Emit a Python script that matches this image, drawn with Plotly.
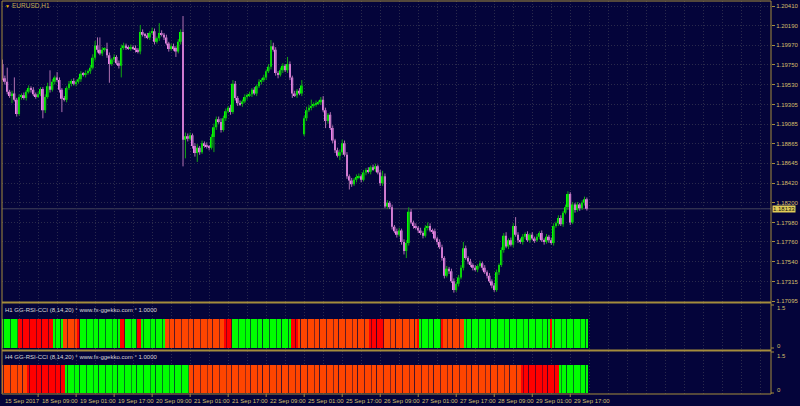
import plotly.graph_objects as go

# ---------------- data (EURUSD H1) ----------------
first_open = 1.1976
gap_bar = 127          # Monday open bar after the weekend gap
gap_open = 1.1897

close = [
    1.1960, 1.1956, 1.1945, 1.1940, 1.1943, 1.1936, 1.1920, 1.1939, 1.1941, 1.1938,
    1.1945, 1.1949, 1.1947, 1.1942, 1.1940, 1.1942, 1.1948, 1.1924, 1.1939, 1.1951,
    1.1947, 1.1956, 1.1961, 1.1958, 1.1947, 1.1937, 1.1936, 1.1949, 1.1954, 1.1957,
    1.1954, 1.1956, 1.1959, 1.1965, 1.1964, 1.1966, 1.1968, 1.1972, 1.1983, 1.1997,
    1.1992, 1.1988, 1.1992, 1.1993, 1.1986, 1.1976, 1.1981, 1.1984, 1.1977, 1.1974,
    1.1994, 1.1997, 1.1995, 1.1994, 1.1995, 1.1994, 1.1992, 1.1990, 1.2012, 1.2009,
    1.2008, 1.2006, 1.2011, 1.2013, 1.2001, 1.2005, 1.2011, 1.2009, 1.2006, 1.1999,
    1.1993, 1.1996, 1.1994, 1.1990, 1.2001, 1.2012, 1.1891, 1.1895, 1.1892, 1.1896,
    1.1884, 1.1876, 1.1882, 1.1877, 1.1887, 1.1885, 1.1883, 1.1882, 1.1894, 1.1905,
    1.1914, 1.1911, 1.1902, 1.1915, 1.1923, 1.1927, 1.1922, 1.1954, 1.1938, 1.1932,
    1.1931, 1.1934, 1.1939, 1.1941, 1.1942, 1.1947, 1.1943, 1.1951, 1.1956, 1.1958,
    1.1961, 1.1968, 1.1973, 1.1996, 1.1992, 1.1966, 1.1964, 1.1969, 1.1974, 1.1969,
    1.1976, 1.1961, 1.1943, 1.1941, 1.1946, 1.1943, 1.1952, 1.1915, 1.1924, 1.1927,
    1.1929, 1.1931, 1.1932, 1.1933, 1.1936, 1.1924, 1.1912, 1.1919, 1.1904, 1.1890,
    1.1879, 1.1873, 1.1877, 1.1887, 1.1874, 1.1850, 1.1845, 1.1841, 1.1846, 1.1849,
    1.1850, 1.1846, 1.1854, 1.1857, 1.1855, 1.1860, 1.1858, 1.1861, 1.1854, 1.1842,
    1.1850, 1.1816, 1.1820, 1.1815, 1.1793, 1.1788, 1.1784, 1.1789, 1.1776, 1.1766,
    1.1775, 1.1810, 1.1798, 1.1794, 1.1792, 1.1789, 1.1786, 1.1783, 1.1792, 1.1794,
    1.1789, 1.1788, 1.1780, 1.1776, 1.1770, 1.1758, 1.1738, 1.1746, 1.1743, 1.1732,
    1.1722, 1.1729, 1.1736, 1.1747, 1.1769, 1.1758, 1.1754, 1.1750, 1.1747, 1.1745,
    1.1749, 1.1752, 1.1747, 1.1742, 1.1738, 1.1732, 1.1727, 1.1722, 1.1742, 1.1750,
    1.1767, 1.1783, 1.1771, 1.1778, 1.1773, 1.1794, 1.1784, 1.1778, 1.1776, 1.1782,
    1.1785, 1.1778, 1.1784, 1.1780, 1.1778, 1.1782, 1.1786, 1.1778, 1.1776, 1.1782,
    1.1778, 1.1775, 1.1794, 1.1797, 1.1803, 1.1796, 1.1809, 1.1815, 1.1830, 1.1798,
    1.1818, 1.1812, 1.1818, 1.1814, 1.1820, 1.1824, 1.18133,
]

# upper / lower shadow lengths in pips
wick_up = [
    5, 3, 16, 2, 3, 18, 2, 3, 2, 3,
    2, 3, 2, 3, 2, 3, 2, 2, 3, 4,
    18, 3, 2, 6, 3, 2, 3, 2, 3, 2,
    3, 2, 2, 3, 2, 3, 2, 3, 4, 5,
    9, 14, 3, 2, 7, 3, 2, 3, 2, 3,
    4, 3, 2, 2, 3, 2, 3, 2, 8, 3,
    2, 3, 2, 4, 3, 2, 11, 3, 2, 3,
    2, 3, 3, 2, 3, 3, 18, 4, 3, 3,
    2, 3, 4, 2, 3, 2, 3, 2, 3, 4,
    3, 3, 4, 3, 3, 2, 3, 4, 3, 2,
    3, 2, 3, 2, 3, 2, 3, 2, 3, 2,
    3, 2, 3, 7, 4, 3, 2, 3, 3, 2,
    8, 3, 2, 3, 2, 3, 6, 3, 4, 3,
    7, 2, 3, 2, 3, 4, 3, 2, 3, 3,
    2, 3, 3, 4, 3, 3, 2, 3, 2, 3,
    3, 2, 3, 2, 3, 2, 3, 3, 2, 3,
    6, 3, 3, 2, 3, 2, 3, 3, 2, 3,
    3, 5, 3, 2, 3, 2, 3, 2, 3, 4,
    3, 2, 3, 2, 3, 3, 2, 3, 2, 3,
    3, 2, 3, 3, 7, 3, 2, 3, 2, 3,
    2, 3, 2, 3, 2, 3, 2, 3, 3, 2,
    3, 3, 4, 2, 3, 3, 10, 3, 2, 3,
    2, 3, 2, 3, 2, 3, 2, 3, 2, 3,
    2, 3, 3, 2, 3, 3, 2, 3, 3, 2,
    3, 2, 3, 2, 3, 3, 2,
]
wick_dn = [
    2, 3, 3, 2, 8, 2, 3, 2, 3, 2,
    3, 2, 3, 2, 3, 2, 2, 9, 3, 2,
    3, 2, 3, 2, 3, 15, 2, 3, 2, 3,
    2, 3, 2, 3, 2, 3, 2, 3, 2, 3,
    3, 2, 3, 2, 3, 21, 2, 3, 2, 3,
    13, 2, 3, 2, 3, 2, 3, 2, 3, 2,
    3, 2, 3, 2, 3, 2, 3, 2, 3, 2,
    3, 2, 3, 6, 2, 3, 30, 21, 3, 2,
    3, 4, 10, 3, 2, 3, 2, 3, 2, 17,
    3, 2, 3, 2, 3, 2, 3, 2, 3, 3,
    2, 3, 2, 3, 2, 3, 2, 3, 2, 3,
    2, 3, 2, 3, 2, 3, 4, 2, 3, 2,
    3, 3, 5, 2, 3, 2, 3, 2, 3, 2,
    3, 2, 3, 2, 3, 2, 8, 3, 2, 3,
    3, 2, 5, 3, 2, 3, 10, 3, 2, 3,
    2, 3, 2, 3, 2, 3, 2, 3, 2, 3,
    3, 2, 3, 2, 3, 2, 3, 2, 3, 4,
    8, 3, 2, 3, 2, 3, 2, 3, 2, 3,
    2, 3, 2, 3, 2, 3, 3, 2, 3, 2,
    3, 2, 3, 2, 3, 2, 3, 2, 3, 2,
    3, 2, 3, 2, 3, 2, 3, 2, 2, 3,
    2, 3, 2, 3, 2, 3, 2, 3, 2, 3,
    3, 2, 3, 2, 3, 2, 3, 2, 3, 2,
    3, 2, 3, 2, 3, 2, 3, 2, 3, 3,
    2, 3, 2, 3, 2, 3, 2,
]

# GG-RSI-CCI indicator state per H1 bar (G = up, R = down, O = weak)
h1_runs = [("G", 7), ("R", 15), ("G", 4), ("O", 6), ("R", 1), ("G", 17), ("R", 2),
           ("G", 5), ("R", 2), ("G", 10), ("O", 25), ("R", 3), ("G", 25), ("R", 3),
           ("O", 30), ("R", 6), ("O", 14), ("R", 1), ("G", 9), ("R", 1), ("O", 9),
           ("G", 36), ("R", 1), ("G", 15)]
h4_runs = [("O", 11), ("R", 16), ("G", 52), ("O", 140), ("R", 16), ("G", 12)]
indicator_value = 1.0

price_ticks = [1.20410, 1.20190, 1.19970, 1.19750, 1.19530, 1.19305, 1.19085, 1.18865,
               1.18645, 1.18420, 1.18200, 1.17980, 1.17760, 1.17540, 1.17315, 1.17095]
time_ticks = [0, 16, 32, 48, 64, 80, 96, 112, 128, 144, 160, 176, 192, 208, 224, 240]
time_labels = ["15 Sep 2017", "18 Sep 09:00", "19 Sep 01:00", "19 Sep 17:00", "20 Sep 09:00",
               "21 Sep 01:00", "21 Sep 17:00", "22 Sep 09:00", "25 Sep 01:00", "25 Sep 17:00",
               "26 Sep 09:00", "27 Sep 01:00", "27 Sep 17:00", "28 Sep 09:00", "29 Sep 01:00",
               "29 Sep 17:00"]
last_price = 1.18133

# ---------------- derived ----------------
N = len(close)
xpos = [k + 1 for k in range(N)]
opens = [first_open] + close[:-1]
opens[gap_bar] = gap_open
pip = 0.0001
high = [max(o, c) + u * pip for o, c, u in zip(opens, close, wick_up)]
low = [min(o, c) - d * pip for o, c, d in zip(opens, close, wick_dn)]
is_up = [c >= o for o, c in zip(opens, close)]
body_base = [min(o, c) for o, c in zip(opens, close)]
body_len = [max(abs(c - o), 0.00003) for o, c in zip(opens, close)]


def expand(runs):
    out = []
    for s, n in runs:
        out += [s] * n
    return out


state_color = {"G": "#00ff00", "R": "#ff0000", "O": "#ff4500"}
h1_colors = [state_color[s] for s in expand(h1_runs)]
h4_colors = [state_color[s] for s in expand(h4_runs)]

# ---------------- style ----------------
BG = "#04043a"
GRID = "#2a2a4c"
GOLD_TXT = "#d2bf6a"
FRAME = "#a48c3c"
FONT = "Liberation Sans"
UP_BODY, DN_BODY = "#00ff00", "#ee82ee"
UP_WICK, DN_WICK = "#12a812", "#b070b0"


def wick_xy(flag):
    xs, ys = [], []
    for x, h, l, u in zip(xpos, high, low, is_up):
        if u == flag:
            xs += [x, x, None]
            ys += [l, h, None]
    return xs, ys


fig = go.Figure()
for flag, col in [(True, UP_WICK), (False, DN_WICK)]:
    wx, wy = wick_xy(flag)
    fig.add_trace(go.Scatter(x=wx, y=wy, mode="lines", line=dict(color=col, width=1),
                             xaxis="x", yaxis="y", showlegend=False, hoverinfo="skip"))
fig.add_trace(go.Bar(x=xpos, y=body_len, base=body_base, width=0.78, xaxis="x", yaxis="y",
                     marker=dict(color=[UP_BODY if u else DN_BODY for u in is_up],
                                 line=dict(width=0)),
                     showlegend=False, hoverinfo="skip"))
fig.add_trace(go.Bar(x=xpos, y=[indicator_value] * N, xaxis="x2", yaxis="y2", width=0.68,
                     marker=dict(color=h1_colors, line=dict(width=0)),
                     showlegend=False, hoverinfo="skip"))
fig.add_trace(go.Bar(x=xpos, y=[indicator_value] * N, xaxis="x3", yaxis="y3", width=0.68,
                     marker=dict(color=h4_colors, line=dict(width=0)),
                     showlegend=False, hoverinfo="skip"))

# plot area: px 2..775 horizontally, py 1..394 vertically
W_PLOT, H_PLOT = 773.0, 393.0
x_range = [0.796, 324.5]


def py(p):  # pixel row -> paper y
    return (394.0 - p) / H_PLOT


def px(p):  # pixel column -> paper x
    return (p - 2.0) / W_PLOT


xa = dict(range=x_range, showticklabels=False, ticks="", showgrid=True, gridcolor=GRID,
          griddash="1px,2px", gridwidth=1, tick0=0, dtick=8, zeroline=False, showline=False,
          fixedrange=True)

fig.update_layout(
    width=800, height=406,
    margin=dict(l=2, r=25, t=1, b=12),
    paper_bgcolor=BG, plot_bgcolor=BG,
    font=dict(family=FONT, size=6, color=GOLD_TXT),
    barmode="overlay", showlegend=False,
    xaxis=dict(xa, anchor="y"),
    xaxis2=dict(xa, anchor="y2", matches="x"),
    xaxis3=dict(xa, anchor="y3", matches="x"),
    yaxis=dict(domain=[py(301.5), 1.0], range=[1.17091, 1.20469], side="right", anchor="x",
               tickvals=price_ticks, ticktext=[f"{v:.5f}" for v in price_ticks],
               tickfont=dict(size=6, color=GOLD_TXT, family=FONT),
               ticks="outside", ticklen=3, tickcolor=FRAME, showgrid=True, gridcolor=GRID,
               griddash="1px,2px", zeroline=False, showline=False, fixedrange=True),
    yaxis2=dict(domain=[py(350), py(303)], range=[-0.069, 1.552], side="right", anchor="x2",
                showticklabels=False, showgrid=False, zeroline=False, ticks="", fixedrange=True),
    yaxis3=dict(domain=[0.0, py(351)], range=[-0.036, 1.5], side="right", anchor="x3",
                showticklabels=False, showgrid=False, zeroline=False, ticks="", fixedrange=True),
)

shapes = [
    dict(type="rect", xref="paper", yref="paper", x0=0, x1=1, y0=0, y1=1,
         line=dict(color=FRAME, width=1)),
    dict(type="line", xref="paper", yref="paper", x0=0, x1=1, y0=py(302.5), y1=py(302.5),
         line=dict(color=FRAME, width=2)),
    dict(type="line", xref="paper", yref="paper", x0=0, x1=1, y0=py(350.5), y1=py(350.5),
         line=dict(color=FRAME, width=2)),
    dict(type="line", xref="paper", yref="y", x0=0, x1=1, y0=last_price, y1=last_price,
         line=dict(color="#45455a", width=1), layer="below"),
]
for t in time_ticks:
    shapes.append(dict(type="line", xref="x3", yref="paper", x0=t, x1=t, y0=0, y1=-3 / H_PLOT,
                       line=dict(color=FRAME, width=1)))
for p in [305, 348, 352, 393]:
    shapes.append(dict(type="line", xref="paper", yref="paper", x0=1, x1=1 + 3 / W_PLOT,
                       y0=py(p), y1=py(p), line=dict(color=FRAME, width=1)))
fig.update_layout(shapes=shapes)

ann = []
# time labels
for i, (t, lab) in enumerate(zip(time_ticks, time_labels)):
    if i == 0:
        ann.append(dict(xref="paper", x=px(3), yref="paper", y=py(400.5), text=lab,
                        showarrow=False, xanchor="left", yanchor="middle",
                        font=dict(size=6, color=GOLD_TXT)))
    else:
        ann.append(dict(xref="x3", x=t, xshift=1.5, yref="paper", y=py(400.5), text=lab,
                        showarrow=False, xanchor="left", yanchor="middle",
                        font=dict(size=6, color=GOLD_TXT)))
# indicator scale labels
for txt, p in [("1.5", 308), ("0", 346), ("1.5", 355.5), ("0", 390)]:
    ann.append(dict(xref="paper", x=px(779), yref="paper", y=py(p), text=txt, showarrow=False,
                    xanchor="left", yanchor="middle", font=dict(size=6, color=GOLD_TXT)))
# last price tag
ann.append(dict(xref="paper", x=px(776), yref="y", y=last_price, text=f"{last_price:.5f}",
                showarrow=False, xanchor="left", yanchor="middle", bgcolor="#e0cc58",
                borderpad=0, font=dict(size=6, color="#101010")))
# titles
ann.append(dict(xref="paper", x=px(3.5), yref="paper", y=py(6), text="▼", showarrow=False,
                xanchor="left", yanchor="middle", font=dict(size=5, color="#e8b800")))
ann.append(dict(xref="paper", x=px(10.5), yref="paper", y=py(6), text="EURUSD,H1",
                showarrow=False, xanchor="left", yanchor="middle",
                font=dict(size=6.5, color="#c8b050")))
ann.append(dict(xref="paper", x=px(3.5), yref="paper", y=py(310), showarrow=False,
                text="H1 GG-RSI-CCI (8,14,20) ° www.fx-ggekko.com ° 1.0000",
                xanchor="left", yanchor="middle", font=dict(size=6, color="#d8d8d8")))
ann.append(dict(xref="paper", x=px(3.5), yref="paper", y=py(356.5), showarrow=False,
                text="H4 GG-RSI-CCI (8,14,20) ° www.fx-ggekko.com ° 1.0000",
                xanchor="left", yanchor="middle", font=dict(size=6, color="#d8d8d8")))
fig.update_layout(annotations=ann)

fig.write_html("out.html", config={"displayModeBar": False},
               post_script="document.body.style.margin='0';"
               "document.body.style.padding='0';")
